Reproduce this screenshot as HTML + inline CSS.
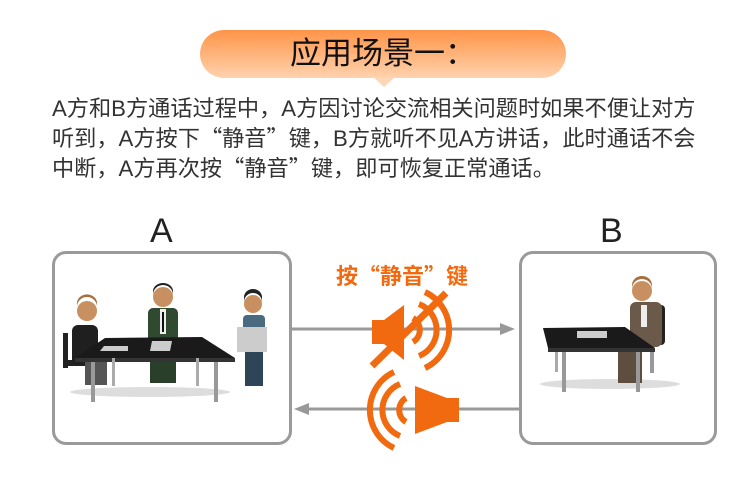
<!DOCTYPE html>
<html><head><meta charset="utf-8"><style>
html,body{margin:0;padding:0;background:#fff;}
body{width:755px;height:480px;position:relative;overflow:hidden;font-family:"Liberation Sans","Noto Sans CJK SC",sans-serif;}
.pill{position:absolute;left:200px;top:30px;width:366px;height:48px;border-radius:24px;background:linear-gradient(#ff9448,#ffd2ae);}
.tail{position:absolute;left:373px;top:77px;width:0;height:0;border-left:11px solid transparent;border-right:11px solid transparent;border-top:10px solid #ffd6b6;}
.title{position:absolute;left:200px;top:30px;width:366px;text-align:center;line-height:48px;font-size:31px;color:#111;}
.txt{position:absolute;left:52px;top:94px;font-size:22.2px;line-height:29px;color:#333;white-space:nowrap;}
.q{font-family:"Noto Sans CJK SC",sans-serif;}
.box{position:absolute;border:3px solid #9a9a9a;border-radius:14px;}
.lab{position:absolute;font-size:34px;color:#222;}
</style></head><body>
<div class="pill"></div><div class="tail"></div>
<div class="title">应用场景一：</div>
<div class="txt">A方和B方通话过程中，A方因讨论交流相关问题时如果不便让对方<br>听到，A方按下<span class="q">“</span>静音<span class="q">”</span>键，B方就听不见A方讲话，此时通话不会<br>中断，A方再次按<span class="q">“</span>静音<span class="q">”</span>键，即可恢复正常通话。</div>
<div class="lab" style="left:150px;top:212px;">A</div>
<div class="lab" style="left:600px;top:212px;">B</div>
<div class="box" style="left:52px;top:251px;width:234px;height:188px;"></div>
<div class="box" style="left:519px;top:251px;width:192px;height:188px;"></div>
<div style="position:absolute;left:336px;top:259px;font-size:22px;font-weight:bold;color:#f26a10;white-space:nowrap;">按<span class="q">“</span>静音<span class="q">”</span>键</div>
<svg width="755" height="480" style="position:absolute;left:0;top:0">
<line x1="289" y1="329" x2="502" y2="329" stroke="#999" stroke-width="3"/>
<polygon points="515,329 500,323 500,335" fill="#999"/>
<line x1="308" y1="409" x2="519" y2="409" stroke="#999" stroke-width="3"/>
<polygon points="294,409 309,403 309,415" fill="#999"/>
<g fill="#f26a10">
<rect x="372" y="320" width="14" height="24"/>
<polygon points="384,320 404,305 404,360 384,344"/>
</g>
<g fill="none" stroke="#f26a10" stroke-width="6">
<path d="M413,318 A14,14 0 0 1 413,342"/>
<path d="M419,304 A28,28 0 0 1 419,356"/>
<path d="M425,292 A42,42 0 0 1 425,368"/>
<line x1="372" y1="366" x2="446" y2="293" stroke-width="7"/>
</g>
<g fill="#f26a10">
<rect x="445" y="398" width="14" height="24"/>
<polygon points="447,398 415,386 415,434 447,422"/>
</g>
<g fill="none" stroke="#f26a10" stroke-width="6">
<path d="M406,398 A14,14 0 0 0 406,422"/>
<path d="M400,384 A28,28 0 0 0 400,436"/>
<path d="M394,372 A42,42 0 0 0 394,448"/>
</g>
<g>
<ellipse cx="150" cy="392" rx="80" ry="5" fill="#ddd"/>
<rect x="63" y="333" width="5" height="35" fill="#222"/>
<rect x="68" y="360" width="25" height="6" fill="#222"/>
<rect x="72" y="325" width="26" height="40" rx="6" fill="#1f1f1f"/>
<rect x="85" y="355" width="22" height="30" fill="#555"/>
<circle cx="87" cy="311" r="10" fill="#c89060"/>
<path d="M77,308 A10,10 0 0 1 97,306 L97,302 A10,9 0 0 0 77,305Z" fill="#a87040"/>
<rect x="148" y="308" width="30" height="45" rx="5" fill="#2f4a2f"/>
<rect x="150" y="350" width="26" height="33" fill="#2a3f2a"/>
<rect x="160" y="309" width="6" height="25" fill="#eee"/>
<rect x="162" y="312" width="2" height="20" fill="#111"/>
<circle cx="163" cy="297" r="10" fill="#c89060"/>
<path d="M153,295 A10,10 0 0 1 173,295 L173,291 A10,8 0 0 0 153,291Z" fill="#222"/>
<rect x="243" y="315" width="22" height="35" rx="4" fill="#4a6a80"/>
<rect x="245" y="348" width="18" height="38" fill="#2e4558"/>
<rect x="237" y="327" width="30" height="25" fill="#ccc"/>
<circle cx="253" cy="304" r="9" fill="#c89060"/>
<path d="M244,302 A9,9 0 0 1 262,302 L262,297 A9,8 0 0 0 244,297Z" fill="#222"/>
<polygon points="105,338 202,337 235,358 75,358" fill="#1a1a1a"/>
<rect x="75" y="358" width="160" height="4" fill="#333"/>
<rect x="91" y="362" width="4" height="40" fill="#999"/>
<rect x="112" y="358" width="3" height="28" fill="#aaa"/>
<rect x="196" y="358" width="3" height="28" fill="#aaa"/>
<rect x="214" y="362" width="4" height="40" fill="#999"/>
<polygon points="104,346 128,346 128,351 100,351" fill="#ccc"/>
<polygon points="152,341 172,341 170,351 150,351" fill="#ccc"/>
</g>
<g>
<ellipse cx="610" cy="384" rx="70" ry="5" fill="#ddd"/>
<rect x="655" y="305" width="10" height="40" rx="4" fill="#222"/>
<rect x="650" y="345" width="4" height="28" fill="#999"/>
<rect x="630" y="302" width="32" height="45" rx="6" fill="#6b5a4a"/>
<rect x="618" y="343" width="24" height="40" fill="#5e4e40"/>
<rect x="641" y="305" width="6" height="22" fill="#eee"/>
<circle cx="642" cy="291" r="10" fill="#c89060"/>
<path d="M632,289 A10,10 0 0 1 652,289 L652,285 A10,9 0 0 0 632,285Z" fill="#a87040"/>
<polygon points="543,328 625,327 655,348 548,348" fill="#1a1a1a"/>
<rect x="548" y="348" width="107" height="4" fill="#333"/>
<rect x="562" y="352" width="4" height="40" fill="#999"/>
<rect x="636" y="352" width="4" height="40" fill="#999"/>
<rect x="555" y="352" width="3" height="20" fill="#aaa"/>
<rect x="577" y="331" width="30" height="7" fill="#ccc"/>
</g>
</svg>
</body></html>
